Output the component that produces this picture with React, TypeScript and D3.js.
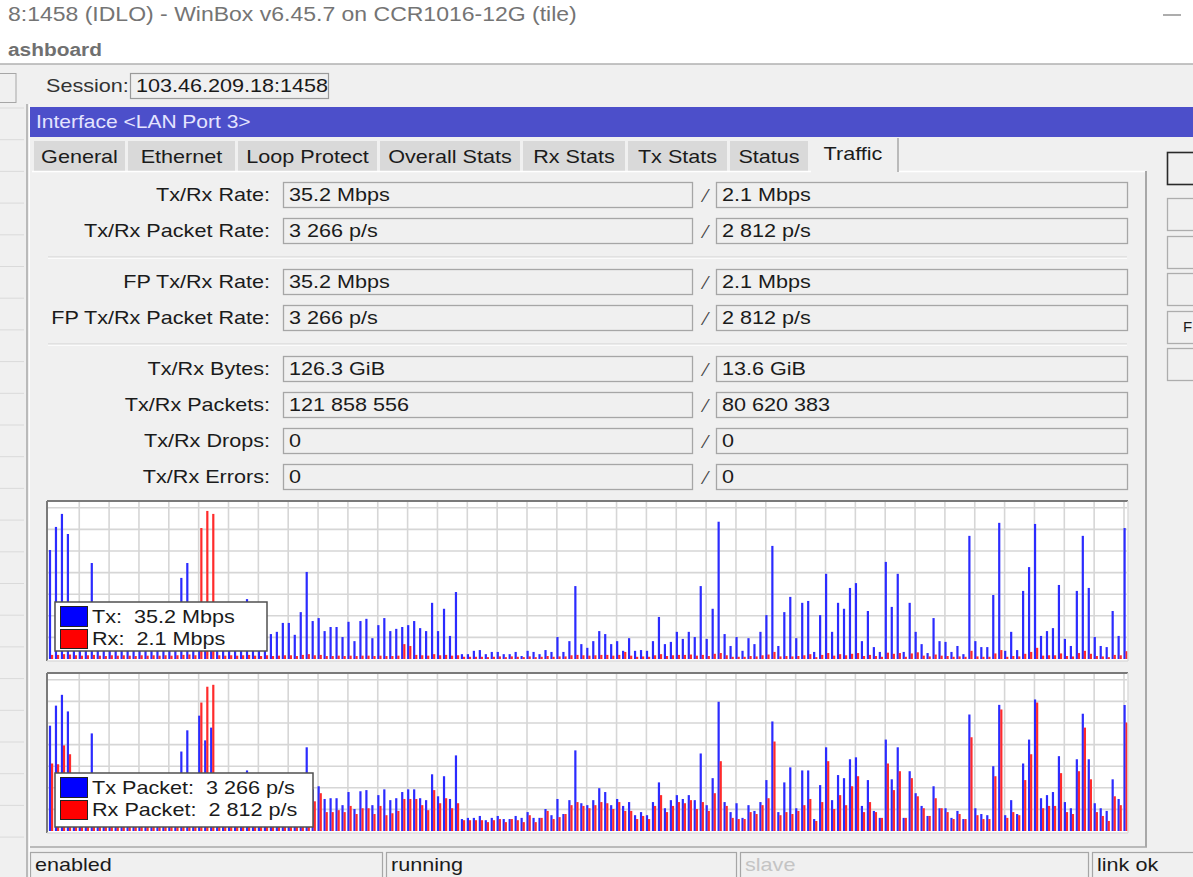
import React from 'react';
import * as d3 from 'd3';

// Traffic tab of a WinBox interface window, redrawn as one svg

const W = 1193;
const H = 877;
const SX = 1.2; // the screenshot is stretched horizontally
const FONT = '"Liberation Sans", Arial, sans-serif';

const titleText = '8:1458 (IDLO) - WinBox v6.45.7 on CCR1016-12G (tile)';
const tabs = ['General', 'Ethernet', 'Loop Protect', 'Overall Stats', 'Rx Stats', 'Tx Stats', 'Status', 'Traffic'];
const tabEdges = [34, 128, 238, 380, 523, 628, 730, 811, 898];

const fieldLabels = ['Tx/Rx Rate:', 'Tx/Rx Packet Rate:', 'FP Tx/Rx Rate:', 'FP Tx/Rx Packet Rate:', 'Tx/Rx Bytes:', 'Tx/Rx Packets:', 'Tx/Rx Drops:', 'Tx/Rx Errors:'];
const fieldTx = ['35.2 Mbps', '3 266 p/s', '35.2 Mbps', '3 266 p/s', '126.3 GiB', '121 858 556', '0', '0'];
const fieldRx = ['2.1 Mbps', '2 812 p/s', '2.1 Mbps', '2 812 p/s', '13.6 GiB', '80 620 383', '0', '0'];
const fieldGroups = [2, 2, 4];

const statusTexts = ['enabled', 'running', 'slave', 'link ok'];
const statusEdges = [30, 386, 740, 1092, 1200];

// Tx / Rx rate, Mbps, one sample per column (oldest left)
const txRate = [
  29.3, 35.5, 39.0, 33.6, 10.8, 8.1, 9.4, 25.8, 8.1, 6.7,
  9.4, 7.5, 10.8, 8.6, 7.0, 10.2, 8.1, 9.1, 7.5, 9.7,
  8.1, 11.3, 21.8, 25.8, 12.1, 13.5, 10.8, 12.1, 9.4, 8.1,
  10.2, 8.6, 10.8, 16.1, 8.1, 7.5, 9.4, 6.7, 7.3, 9.7,
  9.7, 6.5, 12.6, 23.4, 10.2, 11.0, 7.5, 8.6, 8.6, 5.9,
  10.0, 4.8, 10.2, 10.8, 5.6, 9.1, 11.0, 7.5, 8.1, 8.6,
  9.1, 10.2, 8.3, 7.5, 15.1, 7.5, 13.5, 6.2, 18.0, 1.3,
  1.3, 2.2, 2.4, 1.3, 1.9, 1.9, 1.3, 1.3, 1.9, 0.8,
  2.2, 1.9, 1.3, 2.4, 1.9, 5.9, 1.9, 4.8, 19.6, 4.0,
  3.0, 4.8, 7.5, 6.7, 4.0, 4.8, 2.2, 5.6, 2.2, 2.4,
  2.2, 4.8, 11.3, 4.0, 4.6, 7.3, 5.4, 7.3, 5.9, 19.6,
  5.4, 13.5, 36.9, 6.7, 3.5, 5.9, 2.2, 5.6, 4.0, 7.3,
  11.8, 30.4, 3.5, 12.6, 16.7, 5.6, 15.1, 15.6, 1.9, 11.8,
  22.9, 7.3, 15.1, 13.5, 19.1, 20.4, 4.8, 12.9, 3.2, 1.9,
  26.1, 14.0, 22.9, 1.9, 15.1, 7.3, 4.0, 1.6, 11.0, 4.8,
  4.6, 1.9, 3.5, 1.3, 33.1, 4.8, 3.2, 3.2, 17.2, 36.6,
  2.2, 7.3, 2.4, 18.3, 24.7, 36.3, 6.2, 7.5, 8.3, 19.9,
  5.4, 3.5, 18.3, 33.1, 19.1, 5.9, 3.5, 3.2, 12.9, 6.2,
  35.2,
];
const rxRate = [
  1.1, 1.1, 1.3, 1.2, 1.0, 0.9, 1.0, 1.1, 0.9, 0.8,
  1.0, 0.9, 1.0, 0.9, 0.8, 1.0, 0.9, 1.0, 0.9, 1.0,
  0.9, 1.0, 1.1, 1.2, 1.0, 35.2, 39.8, 39.0, 1.0, 0.9,
  1.0, 0.9, 1.0, 1.1, 0.9, 0.8, 1.0, 0.8, 0.9, 1.0,
  1.0, 0.8, 1.1, 1.3, 1.0, 1.1, 0.8, 0.8, 0.9, 0.8,
  0.9, 0.8, 0.9, 0.9, 0.8, 0.9, 0.8, 0.8, 0.9, 4.0,
  3.5, 1.1, 1.0, 0.9, 1.3, 1.0, 1.1, 0.9, 1.0, 0.6,
  0.6, 0.6, 0.6, 0.5, 0.6, 0.7, 0.5, 0.7, 0.6, 0.5,
  0.7, 0.5, 0.6, 0.8, 0.6, 0.7, 0.7, 1.0, 1.1, 1.0,
  0.9, 1.0, 1.1, 1.1, 0.9, 1.1, 1.9, 0.9, 0.6, 0.7,
  0.6, 1.0, 1.3, 0.8, 1.0, 1.1, 1.1, 1.2, 0.9, 1.1,
  0.8, 1.4, 1.6, 1.0, 0.6, 0.6, 0.6, 0.8, 0.7, 1.0,
  1.2, 1.9, 0.7, 0.8, 0.7, 0.8, 1.0, 1.3, 0.5, 1.1,
  1.6, 0.9, 1.3, 1.0, 1.4, 1.6, 0.8, 1.1, 0.8, 0.6,
  1.7, 1.4, 1.6, 0.6, 1.5, 1.8, 0.9, 0.7, 1.2, 0.9,
  0.8, 0.6, 0.7, 0.6, 2.2, 0.7, 0.6, 0.6, 1.5, 2.4,
  0.6, 0.8, 0.7, 1.4, 1.9, 3.0, 0.9, 1.0, 1.0, 1.5,
  0.8, 0.7, 1.6, 2.2, 1.4, 0.8, 0.7, 0.5, 1.1, 1.0,
  2.1,
];

// Tx / Rx packet rate, p/s
const txPackets = [
  2730, 3250, 3530, 3100, 1160, 900, 1030, 2530, 900, 770,
  1030, 830, 1160, 930, 770, 1080, 880, 980, 830, 1030,
  880, 1190, 2060, 2610, 1290, 2990, 2350, 2680, 1030, 900,
  1080, 930, 1160, 1570, 900, 830, 1030, 720, 770, 1030,
  1030, 700, 1340, 2170, 1080, 1160, 830, 850, 850, 670,
  1010, 570, 1030, 1060, 670, 930, 1080, 800, 850, 1010,
  1080, 1080, 850, 800, 1470, 900, 1420, 830, 1960, 310,
  340, 340, 390, 280, 340, 390, 310, 310, 390, 340,
  490, 340, 340, 570, 410, 830, 440, 800, 2090, 720,
  670, 800, 1110, 1010, 670, 830, 650, 750, 410, 490,
  410, 750, 1260, 590, 800, 930, 830, 930, 800, 2010,
  670, 1370, 3350, 750, 490, 720, 340, 670, 520, 750,
  1320, 2840, 490, 1260, 1650, 590, 1570, 1570, 310, 1190,
  2170, 800, 1450, 1370, 1860, 1910, 650, 1320, 520, 340,
  2370, 1340, 2170, 340, 1550, 980, 650, 390, 1160, 590,
  590, 340, 520, 310, 3020, 590, 440, 410, 1680, 3270,
  410, 800, 440, 1750, 2370, 3410, 850, 930, 1010, 1940,
  750, 590, 1860, 3040, 1860, 720, 590, 520, 1340, 830,
  3266,
];
const rxPackets = [
  1750, 1730, 2220, 1990, 770, 650, 720, 1290, 650, 570,
  720, 620, 770, 670, 570, 720, 650, 700, 620, 720,
  650, 770, 1160, 1420, 1030, 3330, 3740, 3790, 720, 650,
  770, 670, 830, 1030, 650, 590, 720, 520, 570, 720,
  720, 520, 900, 1290, 770, 980, 490, 490, 540, 490,
  650, 440, 590, 590, 440, 650, 410, 460, 520, 830,
  830, 830, 670, 540, 1060, 720, 850, 590, 720, 280,
  280, 280, 280, 230, 280, 310, 230, 310, 280, 230,
  410, 230, 340, 520, 310, 360, 440, 670, 750, 650,
  590, 670, 750, 720, 570, 750, 520, 520, 310, 390,
  310, 650, 930, 490, 650, 750, 720, 800, 570, 750,
  520, 980, 1810, 650, 340, 310, 310, 490, 440, 670,
  850, 2320, 410, 490, 440, 520, 670, 830, 260, 750,
  1810, 570, 930, 670, 1160, 1420, 490, 750, 490, 340,
  1750, 1060, 1550, 340, 1370, 900, 590, 390, 850, 590,
  490, 310, 440, 310, 2430, 410, 310, 310, 1420, 3150,
  340, 490, 410, 1320, 1990, 3330, 590, 650, 650, 1500,
  490, 440, 1550, 2680, 1340, 490, 390, 260, 900, 670,
  2812,
];

const BG = '#f0f0f0';
const BOX_STROKE = '#a6a6a6';

function Txt({ x, y, size = 18, fill = '#1b1b1b', anchor = 'start', weight = 400, sx = SX, children }: any) {
  return (
    <text
      transform={`translate(${x},${y + size * 0.36}) scale(${sx},1)`}
      fontSize={size}
      fill={fill}
      textAnchor={anchor}
      fontWeight={weight}
      fontFamily={FONT}
      style={{ whiteSpace: 'pre' }}
    >
      {children}
    </text>
  );
}

function TrafficChart({ top, tx, rx, yMax, legend }: any) {
  const bottom = top + 158;
  const x = d3.scaleLinear().domain([0, tx.length - 1]).range([50, 1124.6]);
  const y = d3.scaleLinear().domain([0, yMax]).range([bottom, top + 1]);
  const gridX = d3.range(5, tx.length, 5).map((i) => x(i) - 0.6);
  const gridY = d3.range(1, 8).map((k) => bottom - k * 21.6);

  return (
    <g>
      <rect x={47} y={top} width={1081} height={160} fill="#fff" />
      {gridX.map((gx, i) => (
        <line key={'gx' + i} x1={gx} x2={gx} y1={top + 1} y2={bottom} stroke="#d6d6d6" strokeWidth={1.6} />
      ))}
      {gridY.map((gy, i) => (
        <line key={'gy' + i} x1={48} x2={1127} y1={gy} y2={gy} stroke="#d6d6d6" strokeWidth={1.6} />
      ))}
      {tx.map((v: number, i: number) => (
        <rect key={'t' + i} x={x(i) - 1.1} y={y(v)} width={2.2} height={bottom - y(v)} fill="#2b2bff" />
      ))}
      {rx.map((v: number, i: number) => (
        <rect key={'r' + i} x={x(i) + 1.0} y={y(v)} width={2.2} height={bottom - y(v)} fill="#ff2b2b" />
      ))}
      {/* sunken frame */}
      <line x1={47} x2={1128} y1={top} y2={top} stroke="#7a7a7a" strokeWidth={2} />
      <line x1={47} x2={47} y1={top} y2={top + 160} stroke="#7a7a7a" strokeWidth={2} />
      <line x1={1128} x2={1128} y1={top} y2={top + 160} stroke="#dcdcdc" strokeWidth={1.5} />
      <line x1={47} x2={1128} y1={top + 160} y2={top + 160} stroke="#dcdcdc" strokeWidth={1.5} />
      {/* legend */}
      <rect x={55} y={legend.y} width={legend.w} height={legend.h} fill="#fff" stroke="#505050" strokeWidth={1.5} />
      <rect x={60.5} y={legend.y + 4.5} width={27} height={20} fill="#0000ff" stroke="#222" strokeWidth={1} />
      <rect x={60.5} y={legend.y + 27.5} width={27} height={19} fill="#ff0000" stroke="#222" strokeWidth={1} />
      <Txt x={92} y={legend.y + 14.5}>{legend.tx}</Txt>
      <Txt x={92} y={legend.y + 37}>{legend.rx}</Txt>
    </g>
  );
}

export default function App() {
  // field rows: groups separated by an etched line
  const rows: { top: number }[] = [];
  const seps: number[] = [];
  let rowTop = 182;
  fieldGroups.forEach((n, g) => {
    for (let k = 0; k < n; k++) {
      rows.push({ top: rowTop });
      rowTop += 36;
    }
    if (g < fieldGroups.length - 1) {
      seps.push(rowTop + 3);
      rowTop += 15;
    }
  });

  const stripLines = d3.range(0, 24).map((k) => 108 + k * 31.7);

  return (
    <svg width={W} height={H} style={{ position: 'fixed', left: 0, top: 0 }} fontFamily={FONT}>
      <rect width={W} height={H} fill={BG} />
      {/* window title area */}
      <rect width={W} height={64} fill="#fff" />
      <Txt x={8} y={14} size={19.5} sx={1.18} fill="#747474">{titleText}</Txt>
      <line x1={1163} x2={1181} y1={15} y2={15} stroke="#777" strokeWidth={1.2} />
      <Txt x={8} y={50} size={18} sx={1.16} fill="#707070" weight={700}>ashboard</Txt>
      <line x1={0} x2={W} y1={64} y2={64} stroke="#b0b0b0" strokeWidth={1.5} />

      {/* session row */}
      <rect x={-2} y={73.5} width={18} height={29} fill={BG} stroke={BOX_STROKE} />
      <Txt x={46} y={86} fill="#333">Session:</Txt>
      <rect x={130.5} y={73.5} width={198} height={25} fill={BG} stroke="#9a9a9a" strokeWidth={1.2} />
      <Txt x={136} y={86} fill="#1a1a1a">103.46.209.18:1458</Txt>

      {/* left window list strip */}
      {stripLines.map((ly, i) => (
        <line key={'s' + i} x1={0} x2={24} y1={ly} y2={ly} stroke="#dadada" strokeWidth={1} />
      ))}
      <line x1={27} x2={27} y1={104} y2={H} stroke="#a8a8a8" strokeWidth={1.5} />
      <line x1={29.5} x2={29.5} y1={104} y2={H} stroke="#fff" strokeWidth={1} />

      {/* interface window caption */}
      <rect x={30} y={107} width={W - 30} height={30} fill="#4c4fca" />
      <Txt x={36} y={122} size={17.5} fill="#e4e4ff">Interface &lt;LAN Port 3&gt;</Txt>

      {/* tabs */}
      {tabs.map((t, i) => {
        const x0 = tabEdges[i];
        const x1 = tabEdges[i + 1] - 3;
        const sel = t === 'Traffic';
        return (
          <g key={t}>
            <rect
              x={x0}
              y={sel ? 138 : 141}
              width={x1 - x0 + (sel ? 3 : 0)}
              height={sel ? 34 : 30}
              fill={sel ? BG : '#d9d9d9'}
            />
            {sel && <line x1={x1 + 3} x2={x1 + 3} y1={138} y2={172} stroke="#a8a8a8" strokeWidth={1.5} />}
            <Txt x={(x0 + x1) / 2} y={sel ? 154 : 157} anchor="middle" size={18}>{t}</Txt>
          </g>
        );
      })}

      {/* tab page border */}
      <line x1={32} x2={811} y1={171.5} y2={171.5} stroke="#fff" strokeWidth={1.5} />
      <line x1={899} x2={1146} y1={171.5} y2={171.5} stroke="#fff" strokeWidth={1.5} />
      <line x1={1146} x2={1146} y1={171} y2={847} stroke="#a8a8a8" strokeWidth={2} />

      {/* fields */}
      {rows.map((r, i) => {
        const cy = r.top + 12.5;
        return (
          <g key={'f' + i}>
            <Txt x={270} y={cy} anchor="end">{fieldLabels[i]}</Txt>
            <rect x={283.5} y={r.top + 0.5} width={409} height={25} fill={BG} stroke={BOX_STROKE} strokeWidth={1.3} />
            <Txt x={289} y={cy}>{fieldTx[i]}</Txt>
            <Txt x={706} y={cy + 1} size={18} sx={1} anchor="middle" fill="#444">⁄</Txt>
            <rect x={716.5} y={r.top + 0.5} width={411} height={25} fill={BG} stroke={BOX_STROKE} strokeWidth={1.3} />
            <Txt x={722} y={cy}>{fieldRx[i]}</Txt>
          </g>
        );
      })}
      {seps.map((sy, i) => (
        <g key={'sep' + i}>
          <line x1={48} x2={1127} y1={sy} y2={sy} stroke="#d2d2d2" strokeWidth={1.2} />
          <line x1={48} x2={1127} y1={sy + 1.2} y2={sy + 1.2} stroke="#fff" strokeWidth={1} />
        </g>
      ))}

      <TrafficChart
        top={501}
        tx={txRate}
        rx={rxRate}
        yMax={42.2}
        legend={{ y: 602, w: 212, h: 49, tx: 'Tx:  35.2 Mbps', rx: 'Rx:  2.1 Mbps' }}
      />
      <TrafficChart
        top={673}
        tx={txPackets}
        rx={rxPackets}
        yMax={4070}
        legend={{ y: 773, w: 258, h: 54, tx: 'Tx Packet:  3 266 p/s', rx: 'Rx Packet:  2 812 p/s' }}
      />

      {/* right hand buttons */}
      {[152, 198, 236, 273, 311, 348].map((by, i) => (
        <rect
          key={'b' + i}
          x={1167.5}
          y={by + 0.5}
          width={40}
          height={32}
          fill={BG}
          stroke={i === 0 ? '#2a2a2a' : '#adadad'}
          strokeWidth={i === 0 ? 1.6 : 1.3}
        />
      ))}
      <Txt x={1183} y={327} size={15} sx={1}>F</Txt>

      {/* status bar */}
      <line x1={30} x2={1147} y1={847} y2={847} stroke="#a8a8a8" strokeWidth={1.5} />
      {statusTexts.map((s, i) => (
        <g key={s}>
          <rect
            x={statusEdges[i] + 0.5}
            y={852.5}
            width={statusEdges[i + 1] - statusEdges[i] - 4}
            height={30}
            fill={BG}
            stroke={BOX_STROKE}
            strokeWidth={1.2}
          />
          <Txt x={statusEdges[i] + 5} y={865} fill={s === 'slave' ? '#c4c4c4' : '#1b1b1b'}>{s}</Txt>
        </g>
      ))}
    </svg>
  );
}
